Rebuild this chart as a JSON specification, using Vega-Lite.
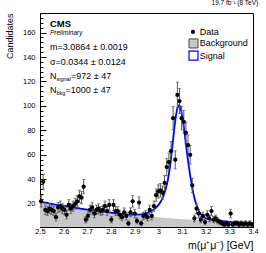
{
  "$schema": "https://vega.github.io/schema/vega-lite/v6.json",
  "width": 213,
  "height": 214,
  "autosize": "none",
  "padding": {"left": 40, "top": 13, "right": 13, "bottom": 26},
  "background": "white",
  "config": {
    "font": "Liberation Sans",
    "view": {"stroke": "black", "strokeWidth": 1},
    "axis": {"grid": false, "domainColor": "black", "tickColor": "black", "labelColor": "black", "titleColor": "black", "labelFont": "Liberation Sans", "titleFont": "Liberation Sans", "titleFontWeight": "normal", "labelOverlap": false, "labelFlush": false, "labelFontSize": 7.5}
  },
  "title": {"text": "19.7 fb⁻¹ (8 TeV)", "anchor": "end", "fontSize": 6.5, "fontWeight": "normal", "offset": 3, "font": "Liberation Sans", "color": "black"},
  "datasets": {
    "hist": [
      {"x": 2.5045, "y": 22, "e": 4.7}, {"x": 2.5135, "y": 38, "e": 6.2}, {"x": 2.5225, "y": 15, "e": 3.9}, {"x": 2.5315, "y": 14, "e": 3.7}, {"x": 2.5405, "y": 16, "e": 4.0},
      {"x": 2.5495, "y": 15, "e": 3.9}, {"x": 2.5585, "y": 14, "e": 3.7}, {"x": 2.5675, "y": 9, "e": 3.0}, {"x": 2.5765, "y": 17, "e": 4.1}, {"x": 2.5855, "y": 18, "e": 4.2},
      {"x": 2.5945, "y": 16, "e": 4.0}, {"x": 2.6035, "y": 15, "e": 3.9}, {"x": 2.6125, "y": 11, "e": 3.3}, {"x": 2.6215, "y": 19, "e": 4.4}, {"x": 2.6305, "y": 16, "e": 4.0},
      {"x": 2.6395, "y": 18, "e": 4.2}, {"x": 2.6485, "y": 20, "e": 4.5}, {"x": 2.6575, "y": 22, "e": 4.7}, {"x": 2.6665, "y": 26, "e": 5.1}, {"x": 2.6755, "y": 25, "e": 5.0},
      {"x": 2.6845, "y": 34, "e": 5.8}, {"x": 2.6935, "y": 7, "e": 2.6}, {"x": 2.7025, "y": 10, "e": 3.2}, {"x": 2.7115, "y": 15, "e": 3.9}, {"x": 2.7205, "y": 17, "e": 4.1},
      {"x": 2.7295, "y": 12, "e": 3.5}, {"x": 2.7385, "y": 15, "e": 3.9}, {"x": 2.7475, "y": 16, "e": 4.0}, {"x": 2.7565, "y": 14, "e": 3.7}, {"x": 2.7655, "y": 15, "e": 3.9},
      {"x": 2.7745, "y": 18, "e": 4.2}, {"x": 2.7835, "y": 14, "e": 3.7}, {"x": 2.7925, "y": 19, "e": 4.4}, {"x": 2.8015, "y": 7, "e": 2.6}, {"x": 2.8105, "y": 19, "e": 4.4},
      {"x": 2.8195, "y": 14, "e": 3.7}, {"x": 2.8285, "y": 14, "e": 3.7}, {"x": 2.8375, "y": 11, "e": 3.3}, {"x": 2.8465, "y": 9, "e": 3.0}, {"x": 2.8555, "y": 13, "e": 3.6},
      {"x": 2.8645, "y": 10, "e": 3.2}, {"x": 2.8735, "y": 4, "e": 2.0}, {"x": 2.8825, "y": 13, "e": 3.6}, {"x": 2.8915, "y": 22, "e": 4.7}, {"x": 2.9005, "y": 12, "e": 3.5},
      {"x": 2.9095, "y": 6, "e": 2.4}, {"x": 2.9185, "y": 21, "e": 4.6}, {"x": 2.9275, "y": 4, "e": 2.0}, {"x": 2.9365, "y": 10, "e": 3.2}, {"x": 2.9455, "y": 11, "e": 3.3},
      {"x": 2.9545, "y": 9, "e": 3.0}, {"x": 2.9635, "y": 15, "e": 3.9}, {"x": 2.9725, "y": 10, "e": 3.2}, {"x": 2.9815, "y": 18, "e": 4.2}, {"x": 2.9905, "y": 27, "e": 5.2},
      {"x": 2.9995, "y": 30, "e": 5.5}, {"x": 3.0085, "y": 31, "e": 5.6}, {"x": 3.0175, "y": 29, "e": 5.4}, {"x": 3.0265, "y": 37, "e": 6.1}, {"x": 3.0355, "y": 50, "e": 7.1},
      {"x": 3.0445, "y": 54, "e": 7.3}, {"x": 3.0535, "y": 63, "e": 7.9}, {"x": 3.0625, "y": 90, "e": 9.5}, {"x": 3.0715, "y": 56, "e": 7.5}, {"x": 3.0805, "y": 109, "e": 10.4},
      {"x": 3.0895, "y": 104, "e": 10.2}, {"x": 3.0985, "y": 90, "e": 9.5}, {"x": 3.1075, "y": 87, "e": 9.3}, {"x": 3.1165, "y": 78, "e": 8.8}, {"x": 3.1255, "y": 68, "e": 8.2},
      {"x": 3.1345, "y": 60, "e": 7.7}, {"x": 3.1435, "y": 35, "e": 5.9}, {"x": 3.1525, "y": 8, "e": 2.8}, {"x": 3.1615, "y": 16, "e": 4.0}, {"x": 3.1705, "y": 12, "e": 3.5},
      {"x": 3.1795, "y": 7, "e": 2.6}, {"x": 3.1885, "y": 10, "e": 3.2}, {"x": 3.1975, "y": 5, "e": 2.2}, {"x": 3.2065, "y": 11, "e": 3.3}, {"x": 3.2155, "y": 8, "e": 2.8},
      {"x": 3.2245, "y": 14, "e": 3.7}, {"x": 3.2335, "y": 7, "e": 2.6}, {"x": 3.2425, "y": 8, "e": 2.8}, {"x": 3.2515, "y": 6, "e": 2.4}, {"x": 3.2605, "y": 5, "e": 2.2},
      {"x": 3.2695, "y": 4, "e": 2.0}, {"x": 3.2785, "y": 3, "e": 1.7}, {"x": 3.2875, "y": 4, "e": 2.0}, {"x": 3.2965, "y": 3, "e": 1.7}, {"x": 3.3055, "y": 12, "e": 3.5},
      {"x": 3.3145, "y": 3, "e": 1.7}, {"x": 3.3235, "y": 4, "e": 2.0}, {"x": 3.3325, "y": 4, "e": 2.0}, {"x": 3.3415, "y": 3, "e": 1.7}, {"x": 3.3505, "y": 4, "e": 2.0},
      {"x": 3.3595, "y": 3, "e": 1.7}, {"x": 3.3685, "y": 4, "e": 2.0}, {"x": 3.3775, "y": 3, "e": 1.7}, {"x": 3.3865, "y": 4, "e": 2.0}, {"x": 3.3955, "y": 3, "e": 1.7}
    ],
    "bkgc": [
      {"x": 2.5, "y": 21.8}, {"x": 2.55, "y": 19.9}, {"x": 2.6, "y": 18.2}, {"x": 2.65, "y": 16.6}, {"x": 2.7, "y": 15.2}, {"x": 2.75, "y": 13.9},
      {"x": 2.8, "y": 12.7}, {"x": 2.85, "y": 11.6}, {"x": 2.9, "y": 10.6}, {"x": 2.95, "y": 9.7}, {"x": 3.0, "y": 8.9}, {"x": 3.05, "y": 8.1},
      {"x": 3.1, "y": 7.4}, {"x": 3.15, "y": 6.8}, {"x": 3.2, "y": 6.2}, {"x": 3.25, "y": 5.7}, {"x": 3.3, "y": 5.2}, {"x": 3.35, "y": 4.8}, {"x": 3.4, "y": 4.3}
    ],
    "totc": [
      {"x": 2.5, "y": 21.8}, {"x": 2.55, "y": 19.9}, {"x": 2.6, "y": 18.2}, {"x": 2.65, "y": 16.6},
      {"x": 2.7, "y": 15.2}, {"x": 2.75, "y": 13.9}, {"x": 2.8, "y": 12.7}, {"x": 2.85, "y": 11.6},
      {"x": 2.9, "y": 11.1}, {"x": 2.92, "y": 11.2}, {"x": 2.94, "y": 11.9}, {"x": 2.96, "y": 13.0},
      {"x": 2.98, "y": 15.2}, {"x": 3.0, "y": 18.9}, {"x": 3.01, "y": 21.7}, {"x": 3.02, "y": 25.5},
      {"x": 3.03, "y": 31.4}, {"x": 3.04, "y": 39.2}, {"x": 3.05, "y": 51.1}, {"x": 3.06, "y": 68.0},
      {"x": 3.07, "y": 85.8}, {"x": 3.08, "y": 97.7}, {"x": 3.088, "y": 100.6}, {"x": 3.095, "y": 97.5},
      {"x": 3.1, "y": 92.4}, {"x": 3.11, "y": 79.3}, {"x": 3.12, "y": 63.2}, {"x": 3.13, "y": 49.0},
      {"x": 3.14, "y": 36.9}, {"x": 3.15, "y": 26.8}, {"x": 3.16, "y": 19.7}, {"x": 3.17, "y": 14.5},
      {"x": 3.18, "y": 11.4}, {"x": 3.19, "y": 9.3}, {"x": 3.2, "y": 8.2}, {"x": 3.22, "y": 7.0},
      {"x": 3.25, "y": 6.1}, {"x": 3.3, "y": 5.2}, {"x": 3.35, "y": 4.8}, {"x": 3.4, "y": 4.3}
    ],
    "notes": [
      {"kind": "cms", "x": 2.5422, "y": 167.0, "t": "CMS"},
      {"kind": "prelim", "x": 2.5422, "y": 159.6, "t": "Preliminary"},
      {"kind": "stat", "x": 2.5422, "y": 148.4, "t": "m=3.0864 ± 0.0019"},
      {"kind": "stat", "x": 2.5422, "y": 135.9, "t": "σ=0.0344 ± 0.0124"},
      {"kind": "stat", "x": 2.5422, "y": 124.5, "t": "N"},
      {"kind": "stat", "x": 2.631, "y": 124.5, "t": "=972 ±  47"},
      {"kind": "stat", "x": 2.5422, "y": 113.0, "t": "N"},
      {"kind": "stat", "x": 2.6077, "y": 113.0, "t": "=1000 ±  47"},
      {"kind": "sub", "x": 2.5697, "y": 122.0, "t": "signal"},
      {"kind": "sub", "x": 2.5697, "y": 110.6, "t": "bkg"},
      {"kind": "leg", "x": 3.1747, "y": 160.5, "t": "Data"},
      {"kind": "leg", "x": 3.1747, "y": 151.1, "t": "Background"},
      {"kind": "leg", "x": 3.1747, "y": 141.2, "t": "Signal"}
    ],
    "legsym": [
      {"kind": "dot", "x": 3.1464, "y": 160.5},
      {"kind": "bkg", "x": 3.1485, "y": 151.1},
      {"kind": "sig", "x": 3.1485, "y": 141.2}
    ]
  },
  "encoding": {
    "x": {"field": "x", "type": "quantitative", "scale": {"domain": [2.5, 3.4], "nice": false, "zero": false},
      "axis": {
        "values": [2.5,2.52,2.54,2.56,2.58,2.6,2.62,2.64,2.66,2.68,2.7,2.72,2.74,2.76,2.78,2.8,2.82,2.84,2.86,2.88,2.9,2.92,2.94,2.96,2.98,3,3.02,3.04,3.06,3.08,3.1,3.12,3.14,3.16,3.18,3.2,3.22,3.24,3.26,3.28,3.3,3.32,3.34,3.36,3.38,3.4],
        "labelExpr": "abs(datum.value*10 - round(datum.value*10)) < 0.01 ? toString(round(datum.value*10)/10) : ''",
        "tickSize": {"condition": {"test": "abs(datum.value*10 - round(datum.value*10)) < 0.01", "value": -6}, "value": -3},
        "labelPadding": 6.5,
        "title": "m(μ⁺μ⁻) [GeV]",
        "titleAnchor": "end",
        "titleFontSize": 10.5,
        "titlePadding": 2
      }
    },
    "y": {"field": "y", "type": "quantitative", "scale": {"domain": [1, 176], "nice": false, "zero": false},
      "axis": {
        "values": [4,8,12,16,20,24,28,32,36,40,44,48,52,56,60,64,68,72,76,80,84,88,92,96,100,104,108,112,116,120,124,128,132,136,140,144,148,152,156,160,164,168,172,176],
        "labelExpr": "datum.value % 20 == 0 ? toString(datum.value) : ''",
        "tickSize": {"condition": {"test": "datum.value % 20 == 0", "value": -6}, "value": -3},
        "labelPadding": 11,
        "title": "Candidates",
        "titleAnchor": "end",
        "titleFontSize": 9,
        "titlePadding": 8
      }
    }
  },
  "layer": [
    {
      "data": {"name": "bkgc"},
      "mark": {"type": "area", "color": "#c8c8c8", "interpolate": "monotone", "clip": true}
    },
    {
      "data": {"name": "totc"},
      "mark": {"type": "line", "color": "#0000ff", "strokeWidth": 1.8, "interpolate": "monotone", "clip": true}
    },
    {
      "data": {"name": "hist"},
      "mark": {"type": "errorbar", "ticks": {"size": 3, "color": "#555555"}, "color": "#555555", "thickness": 1},
      "encoding": {"yError": {"field": "e"}}
    },
    {
      "data": {"name": "hist"},
      "mark": {"type": "circle", "color": "black", "opacity": 1, "size": 18}
    },
    {
      "data": {"name": "notes"},
      "transform": [{"filter": "datum.kind == 'cms'"}],
      "mark": {"type": "text", "align": "left", "baseline": "middle", "fontSize": 9.5, "fontWeight": "bold", "color": "black"},
      "encoding": {"text": {"field": "t"}}
    },
    {
      "data": {"name": "notes"},
      "transform": [{"filter": "datum.kind == 'prelim'"}],
      "mark": {"type": "text", "align": "left", "baseline": "middle", "fontSize": 6.5, "fontStyle": "italic", "color": "black"},
      "encoding": {"text": {"field": "t"}}
    },
    {
      "data": {"name": "notes"},
      "transform": [{"filter": "datum.kind == 'stat' || datum.kind == 'leg'"}],
      "mark": {"type": "text", "align": "left", "baseline": "middle", "fontSize": 9, "color": "black"},
      "encoding": {"text": {"field": "t"}}
    },
    {
      "data": {"name": "notes"},
      "transform": [{"filter": "datum.kind == 'sub'"}],
      "mark": {"type": "text", "align": "left", "baseline": "middle", "fontSize": 5.5, "color": "black"},
      "encoding": {"text": {"field": "t"}}
    },
    {
      "data": {"name": "legsym"},
      "transform": [{"filter": "datum.kind == 'dot'"}],
      "mark": {"type": "circle", "color": "black", "opacity": 1, "size": 18}
    },
    {
      "data": {"name": "legsym"},
      "transform": [{"filter": "datum.kind == 'bkg'"}],
      "mark": {"type": "square", "filled": true, "fill": "#c8c8c8", "stroke": "#444444", "strokeWidth": 1, "opacity": 1, "size": 81}
    },
    {
      "data": {"name": "legsym"},
      "transform": [{"filter": "datum.kind == 'sig'"}],
      "mark": {"type": "square", "filled": true, "fill": "white", "stroke": "#0000ff", "strokeWidth": 1.2, "opacity": 1, "size": 81}
    }
  ]
}
